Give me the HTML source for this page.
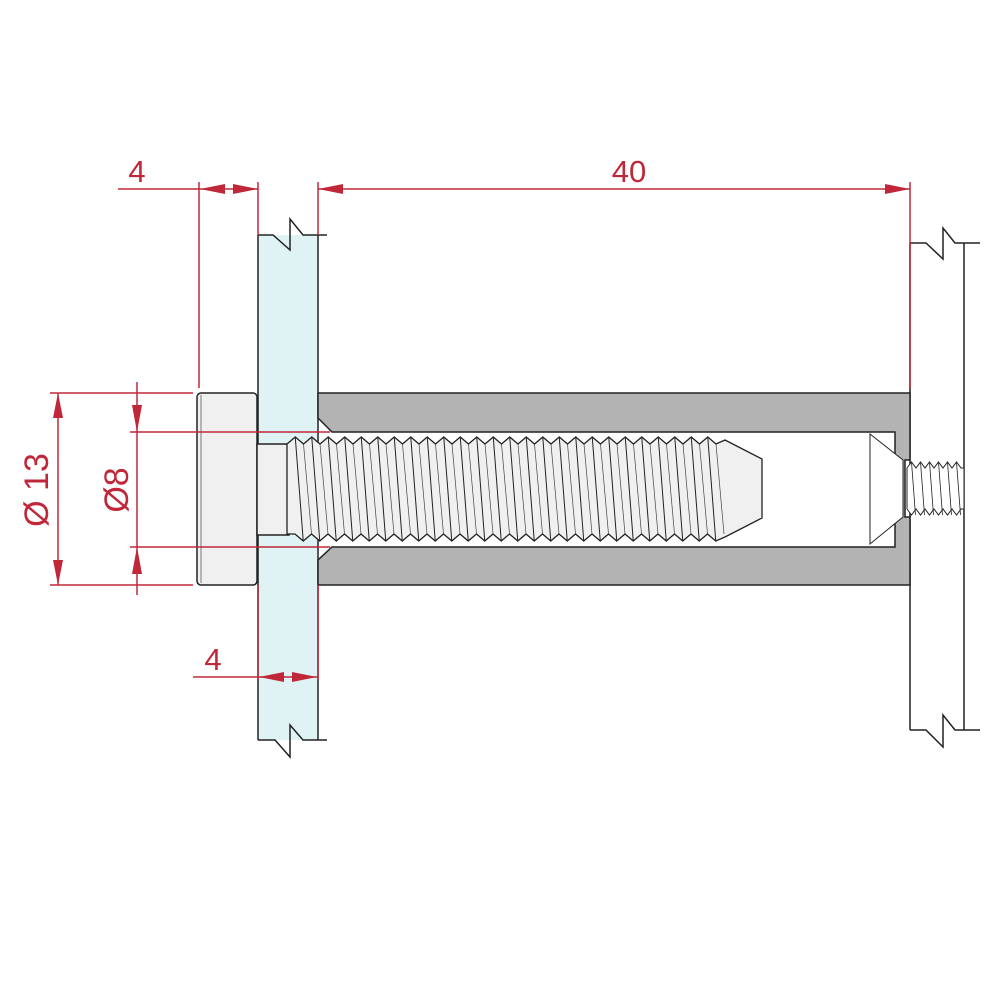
<!DOCTYPE html>
<html><head><meta charset="utf-8"><style>
html,body{margin:0;padding:0;background:#fff}
svg{display:block}
text{font-family:"Liberation Sans","DejaVu Sans",sans-serif;fill:#c0283a}
</style></head><body>
<svg id="s" width="1000" height="1000" viewBox="0 0 1000 1000" xmlns="http://www.w3.org/2000/svg">
<rect x="258" y="235" width="60" height="505" fill="#dff3f4"/>
<line x1="258" y1="235" x2="258" y2="740" stroke="#222" stroke-width="1.5"/>
<line x1="318" y1="235" x2="318" y2="740" stroke="#222" stroke-width="1.5"/>
<path d="M258,235 H273 L290,250 V219 L303,235 H327" fill="none" stroke="#222" stroke-width="1.5"/>
<path d="M258,740 H275 L290,757 V725 L303,740 H327" fill="none" stroke="#222" stroke-width="1.5"/>
<path d="M910,243 H926 L943,259 V228 L955,243 H980" fill="none" stroke="#222" stroke-width="1.5"/>
<path d="M910,730 H926 L943,747 V715 L955,730 H980" fill="none" stroke="#222" stroke-width="1.5"/>
<line x1="964" y1="243" x2="964" y2="730" stroke="#222" stroke-width="1.5"/>
<line x1="910" y1="243" x2="910" y2="730" stroke="#222" stroke-width="1.5"/>
<path d="M318,393 H910 V460 H905 V517 H910 V585 H318 V560 L332,547 H895 V432 H332 L318,418 Z" fill="#b3b3b3" stroke="#222" stroke-width="1.5"/>
<path d="M870,434 L903,460 V517 L870,544 Z" fill="#fff" stroke="#222" stroke-width="1"/>
<g id="small"></g>
<rect x="197" y="393" width="60" height="192" rx="4" fill="#f0f0f0" stroke="#222" stroke-width="1.5"/>
<line x1="201" y1="395" x2="201" y2="583" stroke="#777" stroke-width="1"/>
<rect x="257" y="444" width="32" height="91" fill="#f0f0f0" stroke="#222" stroke-width="1.5"/>
<g id="thread"></g>
<g stroke="#c0283a" stroke-width="1.5" fill="none">
<line x1="118" y1="189" x2="258" y2="189"/>
<line x1="199" y1="182" x2="199" y2="388"/>
<line x1="258" y1="182" x2="258" y2="235"/>
<line x1="318" y1="182" x2="318" y2="235"/>
<line x1="910" y1="182" x2="910" y2="388"/>
<line x1="318" y1="189" x2="910" y2="189"/>
<line x1="50" y1="393" x2="193" y2="393"/>
<line x1="50" y1="585" x2="193" y2="585"/>
<line x1="58" y1="393" x2="58" y2="585"/>
<line x1="130" y1="432" x2="330" y2="432"/>
<line x1="130" y1="547" x2="330" y2="547"/>
<line x1="137" y1="382" x2="137" y2="595"/>
<line x1="193" y1="677" x2="318" y2="677"/>
<line x1="258" y1="585" x2="258" y2="680"/>
<line x1="318" y1="585" x2="318" y2="680"/>
</g>
<g fill="#c0283a">
<path d="M200,189 L225,184 V194 Z"/>
<path d="M258,189 L233,184 V194 Z"/>
<path d="M318,189 L343,184 V194 Z"/>
<path d="M910,189 L885,184 V194 Z"/>
<path d="M58,393 L53,418 H63 Z"/>
<path d="M58,585 L53,560 H63 Z"/>
<path d="M137,432 L132,405 H142 Z"/>
<path d="M137,547 L132,574 H142 Z"/>
<path d="M259,677 L284,672 V682 Z"/>
<path d="M317,677 L292,672 V682 Z"/>
</g>
<text x="137" y="182" font-size="31" text-anchor="middle">4</text>
<text x="629" y="182" font-size="31" text-anchor="middle">40</text>
<text x="213" y="670" font-size="31" text-anchor="middle">4</text>
<text transform="translate(48,490) rotate(-90)" font-size="34" text-anchor="middle">Ø 13</text>
<text transform="translate(128,490) rotate(-90)" font-size="34" text-anchor="middle">Ø8</text>
</svg>
<script>
(function(){
var NS="http://www.w3.org/2000/svg";
function el(p,t,a){var e=document.createElementNS(NS,t);for(var k in a)e.setAttribute(k,a[k]);p.appendChild(e);return e;}
var g=document.getElementById('thread');
var x0=287,p=16.5,n=26;
var top="M"+x0+",444";
for(var i=0;i<n;i++){var x=x0+i*p;top+=" L"+(x+p/2)+",437 L"+(x+p)+",444";}
var body=top+" L725,440 L762,459 V518 L725,537";
var b="";
for(var i=n-1;i>=0;i--){var x=x0+i*p;b+=" L"+(x+p/2+8)+",541 L"+(x+8)+",534";}
body+=b+" L"+x0+",534 Z";
el(g,'path',{d:body,fill:'#f0f0f0',stroke:'#222','stroke-width':1.3});
for(var i=0;i<n;i++){var x=x0+i*p;
el(g,'line',{x1:x+p/2,y1:437,x2:x+p/2+8,y2:541,stroke:'#222','stroke-width':1});
el(g,'line',{x1:x+p,y1:444,x2:x+8+p,y2:534,stroke:'#444','stroke-width':0.7});}
var s=document.getElementById('small');
var q=9,sx=907,m=6,d="M"+sx+",468";
for(var i=0;i<m;i++){var x=sx+i*q;d+=" L"+(x+q/2)+",462 L"+(x+q)+",468";}
d+=" L964,468 V509";
for(var i=m-1;i>=0;i--){var x=sx+i*q;d+=" L"+(x+q)+",509 L"+(x+q/2)+",515";}
d+=" L"+sx+",509 Z";
el(s,'path',{d:d,fill:'#fff',stroke:'#222','stroke-width':1});
for(var i=0;i<m;i++){var x=sx+i*q;el(s,'line',{x1:x+q/2,y1:462,x2:x+q/2+4,y2:515,stroke:'#222','stroke-width':0.8});}
})();
</script>
</body></html>
